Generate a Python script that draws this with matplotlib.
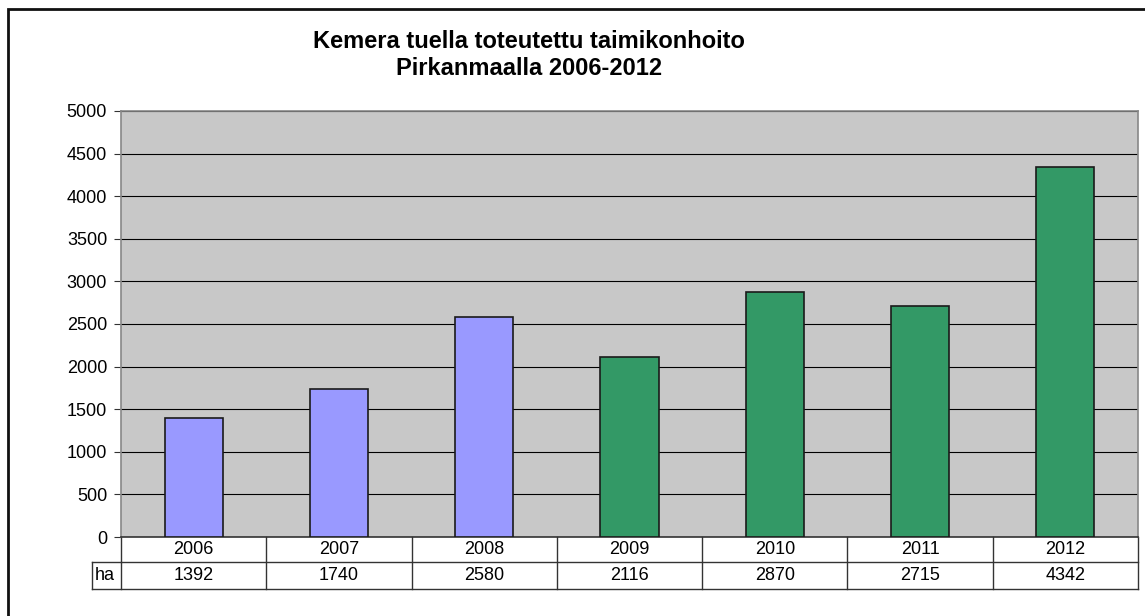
import matplotlib.pyplot as plt
import matplotlib.transforms as mtransforms
from matplotlib.patches import Rectangle
from matplotlib.lines import Line2D

years = ['2006', '2007', '2008', '2009', '2010', '2011', '2012']
hectares = [1392, 1740, 2580, 2116, 2870, 2715, 4342]
row_label = 'ha'
title = 'Kemera tuella toteutettu taimikonhoito\nPirkanmaalla 2006-2012'

blue = '#9999FF'
green = '#339966'
bar_colors = [blue] * 3 + [green] * 4

plt.rcParams['font.family'] = ['Liberation Sans', 'DejaVu Sans']

W, H = 1145, 616
fig = plt.figure(figsize=(W / 100, H / 100), dpi=100)

# outer chart frame (only top/left visible in the original)
fig.patches.append(Rectangle((8 / W, -0.1), 1.2, (H - 9) / H + 0.1, transform=fig.transFigure,
                             fill=False, edgecolor='#111111', linewidth=2))

left, right, top, bottom = 121, 1138, 111, 537
ax = fig.add_axes([left / W, 1 - bottom / H, (right - left) / W, (bottom - top) / H])
ax.set_facecolor('#C8C8C8')

x = list(range(len(years)))
ax.bar(x, hectares, width=0.4, color=bar_colors, edgecolor='#1a1a1a', linewidth=1.2, zorder=3)

ax.set_xlim(-0.5, len(years) - 0.5)
ax.set_ylim(0, 5000)
ax.set_yticks(range(0, 5001, 500))
ax.yaxis.grid(True, color='black', linewidth=0.8, zorder=1)
ax.set_axisbelow(True)
ax.set_xticks([])
ax.tick_params(axis='y', labelsize=13, length=5, color='#333333', pad=5)
for s in ['top', 'right', 'left', 'bottom']:
    ax.spines[s].set_color('#888888')
    ax.spines[s].set_linewidth(1.2)
ax.spines['bottom'].set_color('#333333')

fig.text(529 / W, 1 - 55 / H, title, ha='center', va='center', fontsize=17,
         fontweight='bold', linespacing=1.2)

# data table below the plot
ah = bottom - top
r1 = -25 / ah
r2 = -52 / ah
ha_left = -0.5 - (left - 92) / ((right - left) / len(years))
blend = mtransforms.blended_transform_factory(ax.transData, ax.transAxes)
lc = '#333333'
lw = 1.0
# horizontal lines
ax.add_line(Line2D([-0.5, 6.5], [r1, r1], transform=blend, color=lc, lw=lw, clip_on=False))
ax.add_line(Line2D([ha_left, 6.5], [r2, r2], transform=blend, color=lc, lw=lw, clip_on=False))
ax.add_line(Line2D([ha_left, -0.5], [r1, r1], transform=blend, color=lc, lw=lw, clip_on=False))
# vertical lines
for b in [i - 0.5 for i in range(len(years) + 1)]:
    ax.add_line(Line2D([b, b], [0, r2], transform=blend, color=lc, lw=lw, clip_on=False))
ax.add_line(Line2D([ha_left, ha_left], [r1, r2], transform=blend, color=lc, lw=lw, clip_on=False))

for i, (yr, v) in enumerate(zip(years, hectares)):
    ax.text(i, r1 / 2, yr, transform=blend, ha='center', va='center', fontsize=13)
    ax.text(i, (r1 + r2) / 2, str(v), transform=blend, ha='center', va='center', fontsize=13)
ax.text(ha_left + 0.02, (r1 + r2) / 2, row_label, transform=blend, ha='left', va='center', fontsize=13)

fig.savefig('out.png', dpi=100)
